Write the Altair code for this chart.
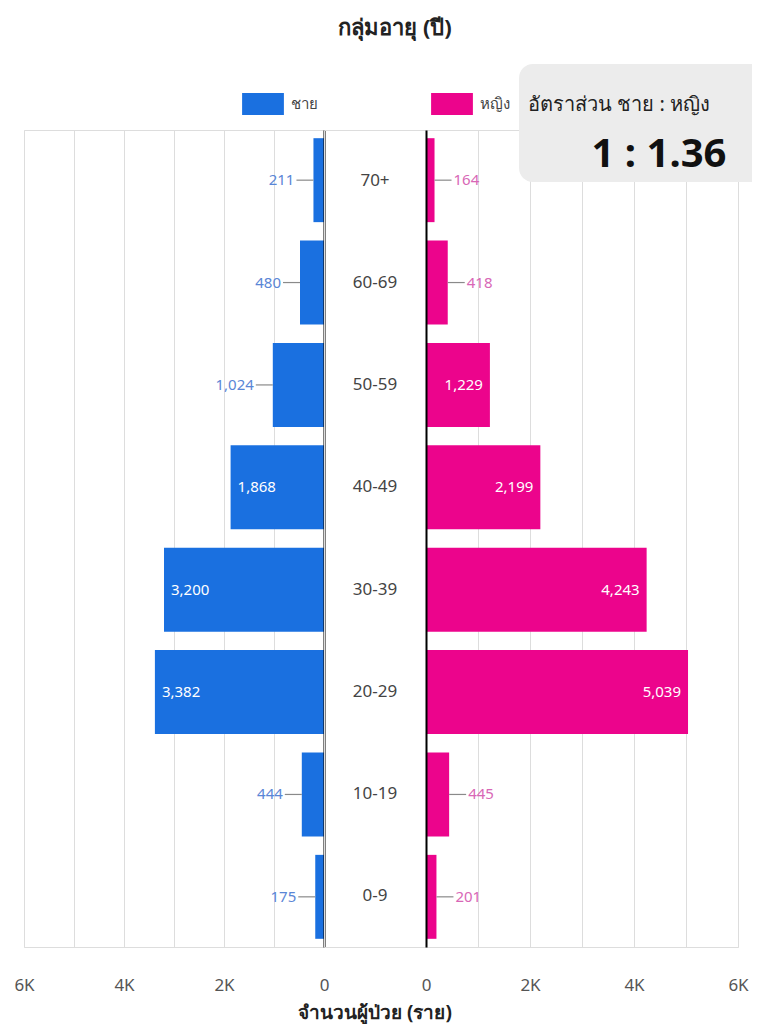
import altair as alt
import pandas as pd

ages = ["70+", "60-69", "50-59", "40-49", "30-39", "20-29", "10-19", "0-9"]
male = [211, 480, 1024, 1868, 3200, 3382, 444, 175]
female = [164, 418, 1229, 2199, 4243, 5039, 445, 201]
genders = ["ชาย", "หญิง"]
colors = ["#1a70e0", "#ec048c"]
ratio_label = "อัตราส่วน ชาย : หญิง"
ratio_value = "1 : 1.36"
title_text = "กลุ่มอายุ (ปี)"
xaxis_title = "จำนวนผู้ป่วย (ราย)"

df = pd.DataFrame(
    {"age": ages * 2, "value": male + female, "gender": [genders[0]] * len(ages) + [genders[1]] * len(ages)}
)

FONT = "Noto Sans"
H = 817
LW, MW, RW = 300, 102, 312
INSIDE = 1100

yenc_left = alt.Y(
    "age:N", sort=ages,
    scale=alt.Scale(paddingInner=0.18, paddingOuter=0.08),
    axis=alt.Axis(orient="right", labels=False, ticks=False, title=None, grid=False,
                  domainColor="black", domainWidth=2, zindex=1),
)
yenc_right = alt.Y(
    "age:N", sort=ages,
    scale=alt.Scale(paddingInner=0.18, paddingOuter=0.08),
    axis=alt.Axis(orient="left", labels=False, ticks=False, title=None, grid=False,
                  domainColor="black", domainWidth=2, zindex=1),
)

label_expr = "datum.value % 2000 == 0 ? (datum.value == 0 ? '0' : (datum.value / 1000) + 'K') : ''"

def xaxis():
    return alt.Axis(values=[0, 1000, 2000, 3000, 4000, 5000, 6000], labelExpr=label_expr,
                    title=None, ticks=False, domain=False, labelFontSize=17, labelColor="#555",
                    labelPadding=30, grid=True, labelFont=FONT, labelFlush=False)

color = alt.Color(
    "gender:N",
    scale=alt.Scale(domain=genders, range=colors),
    legend=alt.Legend(
        title=None, orient="none", direction="horizontal", legendX=228, legendY=-37,
        symbolType="M-1.9,-1H1.9V1H-1.9Z", symbolSize=484, symbolStrokeWidth=0,
        symbolOpacity=1, labelFontSize=15, labelColor="#444", labelFont=FONT,
        columnPadding=113, labelOffset=17,
    ),
)

base = alt.Chart(df)

# Left (male)
lbase = base.transform_filter(alt.datum.gender == genders[0])
lx = alt.X("value:Q", scale=alt.Scale(domain=[0, 6000], reverse=True, nice=False), axis=xaxis())
left_bars = lbase.mark_bar().encode(x=lx, y=yenc_left, color=color)
left_in = lbase.transform_filter(alt.datum.value >= INSIDE).mark_text(
    align="left", dx=7, color="white", fontSize=15, font=FONT
).encode(x="value:Q", y=alt.Y("age:N", sort=ages), text=alt.Text("value:Q", format=","))
left_out = lbase.transform_filter(alt.datum.value < INSIDE).mark_text(
    align="right", dx=-19, color="#5a86d6", fontSize=15, font=FONT
).encode(x="value:Q", y=alt.Y("age:N", sort=ages), text=alt.Text("value:Q", format=","))
left_rule = lbase.transform_filter(alt.datum.value < INSIDE).mark_rule(
    color="#8a8a8a", strokeWidth=1.2, x2Offset=-17
).encode(x="value:Q", x2="value:Q", y=alt.Y("age:N", sort=ages))
left = alt.layer(left_bars, left_rule, left_in, left_out).properties(width=LW, height=H)

# Middle (age labels, titles)
mid_labels = base.transform_filter(alt.datum.gender == genders[0]).mark_text(
    fontSize=17, color="#444", font=FONT
).encode(
    x=alt.value(MW / 2),
    y=alt.Y("age:N", sort=ages, scale=alt.Scale(paddingInner=0.18, paddingOuter=0.08), axis=None),
    text="age:N",
)
mid_title = alt.Chart(pd.DataFrame({"t": [title_text]})).mark_text(
    fontSize=22, fontWeight="bold", color="#222", font=FONT
).encode(x=alt.value(MW / 2 + 20), y=alt.value(-102), text="t:N")
mid_xtitle = alt.Chart(pd.DataFrame({"t": [xaxis_title]})).mark_text(
    fontSize=19, fontWeight="bold", color="#222", font=FONT
).encode(x=alt.value(MW / 2), y=alt.value(883), text="t:N")
middle = alt.layer(mid_labels, mid_title, mid_xtitle).properties(width=MW, height=H)

# Right (female)
rbase = base.transform_filter(alt.datum.gender == genders[1])
rx = alt.X("value:Q", scale=alt.Scale(domain=[0, 6000], nice=False), axis=xaxis())
right_bars = rbase.mark_bar().encode(x=rx, y=yenc_right, color=color)
right_in = rbase.transform_filter(alt.datum.value >= INSIDE).mark_text(
    align="right", dx=-7, color="white", fontSize=15, font=FONT
).encode(x="value:Q", y=alt.Y("age:N", sort=ages), text=alt.Text("value:Q", format=","))
right_out = rbase.transform_filter(alt.datum.value < INSIDE).mark_text(
    align="left", dx=19, color="#d867b6", fontSize=15, font=FONT
).encode(x="value:Q", y=alt.Y("age:N", sort=ages), text=alt.Text("value:Q", format=","))
right_rule = rbase.transform_filter(alt.datum.value < INSIDE).mark_rule(
    color="#8a8a8a", strokeWidth=1.2, x2Offset=17
).encode(x="value:Q", x2="value:Q", y=alt.Y("age:N", sort=ages))

box_df = pd.DataFrame({"label": [ratio_label], "value": [ratio_value]})
box = alt.Chart(box_df).mark_rect(
    fill="#ececec", cornerRadiusTopLeft=14, cornerRadiusBottomLeft=14
).encode(x=alt.value(93), x2=alt.value(326), y=alt.value(-66), y2=alt.value(52))
box_label = alt.Chart(box_df).mark_text(
    align="left", fontSize=20, color="#222", font=FONT, limit=224, ellipsis=""
).encode(x=alt.value(102), y=alt.value(-25), text="label:N")
box_value = alt.Chart(box_df).mark_text(
    fontSize=40, fontWeight="bold", color="#111", font=FONT
).encode(x=alt.value(233), y=alt.value(25), text="value:N")

right = alt.layer(right_bars, right_rule, right_in, right_out, box, box_label, box_value).properties(
    width=RW, height=H
)

chart = alt.hconcat(left, middle, right, spacing=0, bounds="flush").configure_view(
    stroke=None
).configure_axis(gridColor="#dcdcdc", gridWidth=1).configure(
    font=FONT, padding={"left": 5, "top": 8, "right": 0, "bottom": 0}
)

chart.save("out.html", embed_options={"renderer": "svg", "actions": False})
